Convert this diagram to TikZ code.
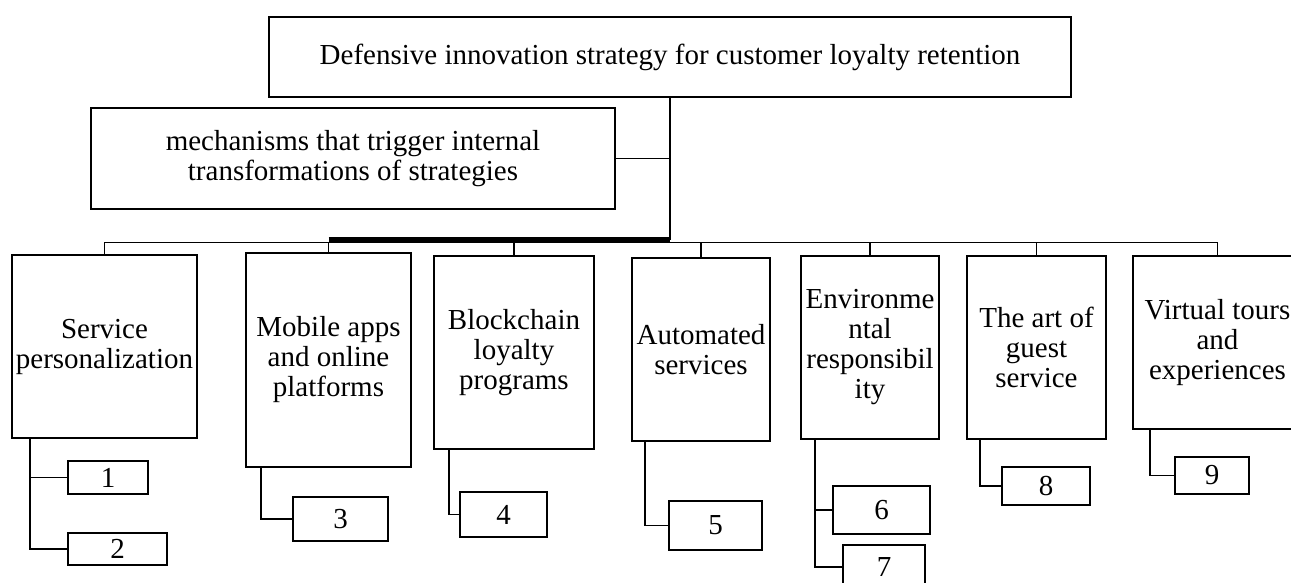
\documentclass[tikz,border=0pt]{standalone}
\usepackage{fontspec}
\setmainfont{Liberation Serif}
\usetikzlibrary{calc}
\tikzset{
	box/.style={draw, line width=0.9pt, inner sep=0pt, align=center,
		font=\fontsize{14.5}{15}\selectfont},
	boxsize/.style 2 args={minimum width=#1*0.5pt, minimum height=#2*0.5pt},
	link/.style={line width=0.9pt},
	trunk/.style={line width=1.3pt},
	thickbus/.style={line width=2.2pt}
}

\begin{document}
\begin{tikzpicture}[x=0.5pt,y=-0.5pt]
	\useasboundingbox (0,0) rectangle (1291,583);

	% Top level
	\node[box, boxsize={802}{80}] (top) at (670,57) {Defensive innovation strategy for customer loyalty retention};
	\node[box, boxsize={524}{101}] (mech) at (353,158.5) {mechanisms that trigger internal\\transformations of strategies};

	% Strategy boxes
	\node[box, boxsize={185}{183}] (serv) at (104.5,346.5) {Service\\personalization};
	\node[box, boxsize={165}{214}] (mob) at (328.5,360) {Mobile apps\\and online\\platforms};
	\node[box, boxsize={160}{193}] (block) at (514,352.5) {Blockchain\\loyalty\\programs};
	\node[box, boxsize={138}{183}] (auto) at (701,349.5) {Automated\\services};
	\node[box, boxsize={138}{183}] (env) at (870,347.5) {Environme\\ntal\\responsibil\\ity};
	\node[box, boxsize={139}{183}] (art) at (1036.5,347.5) {The art of\\guest\\service};
	\node[box, boxsize={169}{173}] (virt) at (1217.5,342.5) {Virtual tours\\and\\experiences};

	% Number boxes
	\foreach \n/\x/\y/\w/\h in {1/108/477.5/80/33, 2/117.5/549/99/32, 3/340.5/519/95/44,
			4/503.5/514.5/87/45, 5/715.5/525.5/93/49, 6/881.5/510/97/48,
			7/884/567/82/44, 8/1046/486/88/38, 9/1212/475.5/74/37}
		\node[box, boxsize={\w}{\h}] (n\n) at (\x,\y) {\n};

	% Lines
	\coordinate (bus) at (670,242.5);
	\coordinate (busthick) at (670,239.5);
	\draw[trunk] (top.south) -- (top.south |- busthick);
	\draw[link] (mech.east) -- (mech.east -| top.south);
	\draw[link] (serv.north) -- (serv.north |- bus) -- (virt.north |- bus) -- (virt.north);
	\draw[thickbus] (mob.north |- busthick) -- (busthick);
	\foreach \b in {mob,block,auto,env,art}
		\draw[link] (\b.north) -- (\b.north |- bus);

	% Legs to numbers
	\foreach \b/\d/\c in {serv/19/n1, serv/19/n2, mob/16/n3, block/16/n4, auto/14/n5,
			env/15/n6, env/15/n7, art/14/n8, virt/18/n9}
		\draw[link] ($(\b.south west)+(\d,0)$) |- (\c.west);
\end{tikzpicture}
\end{document}
